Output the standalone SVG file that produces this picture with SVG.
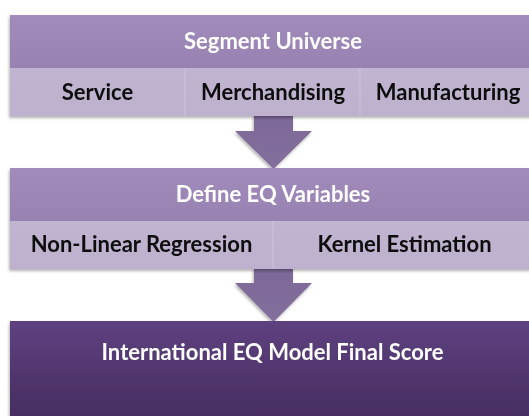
<svg xmlns="http://www.w3.org/2000/svg" width="529" height="416" viewBox="0 0 529 416">
  <defs>
    <linearGradient id="hdr" x1="0" y1="0" x2="0" y2="1">
      <stop offset="0" stop-color="#a08bbb"/>
      <stop offset="1" stop-color="#9882b1"/>
    </linearGradient>
    <linearGradient id="low" x1="0" y1="0" x2="0" y2="1">
      <stop offset="0" stop-color="#c0b4d1"/>
      <stop offset="1" stop-color="#bdb1cd"/>
    </linearGradient>
    <linearGradient id="arr" x1="0" y1="0" x2="0" y2="1">
      <stop offset="0" stop-color="#7d6997"/>
      <stop offset="1" stop-color="#836f9c"/>
    </linearGradient>
    <linearGradient id="fin" x1="0" y1="0" x2="0" y2="1">
      <stop offset="0" stop-color="#5e417f"/>
      <stop offset="1" stop-color="#452d60"/>
    </linearGradient>
    <filter id="sh" x="-10%" y="-10%" width="120%" height="130%">
      <feGaussianBlur in="SourceAlpha" stdDeviation="1.5"/>
      <feOffset dx="-1" dy="2" result="b"/>
      <feComponentTransfer><feFuncA type="linear" slope="0.3"/></feComponentTransfer>
      <feMerge><feMergeNode/><feMergeNode in="SourceGraphic"/></feMerge>
    </filter>
  </defs>
  <style>
    .t { font-family: Lato, "Open Sans", "Liberation Sans", sans-serif; font-weight: bold; font-size: 22px; text-anchor: middle; }
    .w { fill: #ffffff; }
    .k { fill: #0d0d0d; }
    .div { stroke: #cdc4da; stroke-width: 1; }
  </style>
  <rect width="529" height="416" fill="#ffffff"/>

  <g id="connectors" fill="url(#arr)" filter="url(#sh)">
    <path id="arrow1" d="M254,114 H293 V131 H312 L273.5,169 L235,131 H254 Z"/>
    <path id="arrow2" d="M254,267 H293 V283 H312 L273.5,322 L235,283 H254 Z"/>
  </g>

  <g id="segment-universe" filter="url(#sh)">
    <rect x="10" y="15" width="526" height="53" fill="url(#hdr)"/>
    <rect x="10" y="68" width="526" height="48" fill="url(#low)"/>
    <line class="div" x1="185" y1="68" x2="185" y2="116"/>
    <line class="div" x1="360" y1="68" x2="360" y2="116"/>
    <text class="t w" x="273" y="49">Segment Universe</text>
    <text class="t k" x="97.5" y="100">Service</text>
    <text class="t k" x="273" y="100">Merchandising</text>
    <text class="t k" x="448" y="100">Manufacturing</text>
  </g>

  <g id="define-eq-variables" filter="url(#sh)">
    <rect x="10" y="168" width="526" height="53" fill="url(#hdr)"/>
    <rect x="10" y="221" width="526" height="48" fill="url(#low)"/>
    <line class="div" x1="273" y1="221" x2="273" y2="269"/>
    <text class="t w" x="273" y="202">Define EQ Variables</text>
    <text class="t k" x="141.5" y="252">Non-Linear Regression</text>
    <text class="t k" x="404.5" y="252">Kernel Estimation</text>
  </g>

  <g id="final-score" filter="url(#sh)">
    <rect x="10" y="321" width="526" height="100" fill="url(#fin)"/>
    <text class="t w" x="272.5" y="360">International EQ Model Final Score</text>
  </g>
</svg>
